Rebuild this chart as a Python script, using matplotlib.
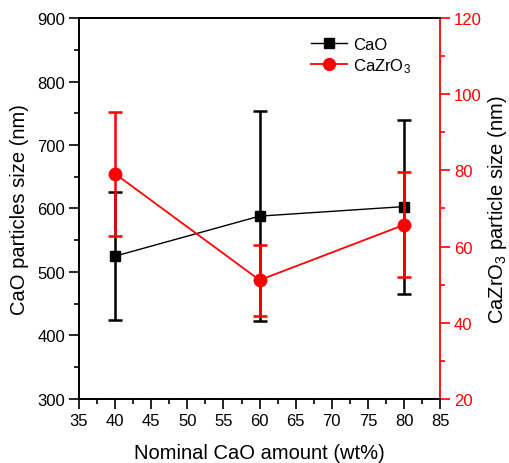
import matplotlib.pyplot as plt
from matplotlib.ticker import MultipleLocator
from matplotlib.lines import Line2D

plt.rcParams['font.family'] = ['Liberation Sans', 'DejaVu Sans']
plt.rcParams['mathtext.fontset'] = 'custom'
plt.rcParams['mathtext.rm'] = 'Liberation Sans'
plt.rcParams['mathtext.default'] = 'regular'

# nominal CaO content (wt%)
cao_amount = [40, 60, 80]

# CaO crystallite size and its spread (nm)
cao_size = [525, 588, 603]
cao_err = [101, 165, 137]

# CaZrO3 crystallite size and its spread (nm)
czo_size = [79.1, 51.2, 65.7]
czo_err = [16.3, 9.3, 13.8]

fig = plt.figure(figsize=(5.1, 4.64), dpi=100)
ax = fig.add_axes([0.155, 0.138, 0.708, 0.821])
ax2 = ax.twinx()

ax.errorbar(cao_amount, cao_size, yerr=cao_err, color='black', lw=1,
            marker='s', ms=7.5, elinewidth=1.8, capsize=4.7, capthick=1.8,
            zorder=3)
ax2.errorbar(cao_amount, czo_size, yerr=czo_err, color='red', lw=1.3,
             marker='o', ms=9, elinewidth=1.8, capsize=4.7, capthick=1.8,
             zorder=3)

ax.set_xlim(35, 85)
ax.set_ylim(300, 900)
ax2.set_ylim(20, 120)

ax.xaxis.set_major_locator(MultipleLocator(5))
ax.xaxis.set_minor_locator(MultipleLocator(2.5))
ax.yaxis.set_major_locator(MultipleLocator(100))
ax.yaxis.set_minor_locator(MultipleLocator(50))
ax2.yaxis.set_major_locator(MultipleLocator(20))
ax2.yaxis.set_minor_locator(MultipleLocator(10))

ax.tick_params(which='both', direction='out', labelsize=12, width=1.2, pad=3)
ax.tick_params(which='major', length=7)
ax.tick_params(which='minor', length=3.5)
ax2.tick_params(which='both', direction='out', labelsize=12, width=1.2,
                colors='red', pad=3)
ax2.tick_params(which='major', length=7)
ax2.tick_params(which='minor', length=3.5)

for s in ['left', 'bottom', 'top']:
    ax.spines[s].set_linewidth(1.3)
    ax2.spines[s].set_linewidth(1.3)
ax2.spines['right'].set_color('red')
ax2.spines['right'].set_linewidth(1.3)
ax.spines['right'].set_visible(False)

ax.set_xlabel('Nominal CaO amount (wt%)', fontsize=14.5, labelpad=11)
ax.set_ylabel('CaO particles size (nm)', fontsize=14.5, labelpad=6)
ax2.set_ylabel('CaZrO$_3$ particle size (nm)', fontsize=14.5, color='black',
               labelpad=3)

handles = [
    Line2D([], [], color='black', lw=1, marker='s', ms=7.5),
    Line2D([], [], color='red', lw=1.3, marker='o', ms=8.5),
]
ax2.legend(handles, ['CaO', 'CaZrO$_3$'], loc='upper left',
           bbox_to_anchor=(0.6, 0.99), frameon=False, fontsize=12,
           handlelength=2.2, handletextpad=0.35, labelspacing=0.25)

fig.savefig('out.png', dpi=100)
